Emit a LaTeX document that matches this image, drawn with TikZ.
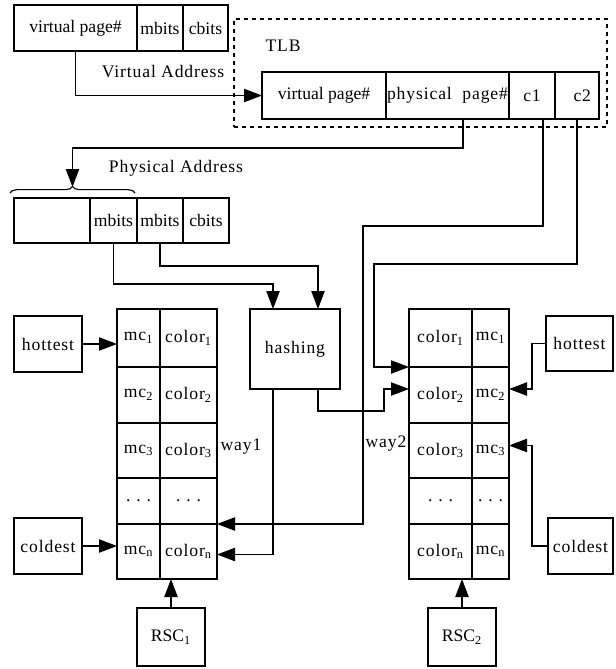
\documentclass[tikz,border=0pt]{standalone}
\usepackage{fontspec}
\setmainfont{Liberation Serif}
\newfontfamily\lsp[LetterSpace=5]{Liberation Serif}
\usetikzlibrary{arrows.meta,calc,decorations.pathreplacing}
\newcommand\pxcell[6]{\node[cellstyle, minimum width={(#4-#2)*0.75pt}, minimum height={(#5-#3)*0.75pt}] (#1) at ({(#2+#4)/2},{(#3+#5)/2}) {#6};}
\tikzset{
  cellstyle/.style={draw, rectangle, line width=0.85pt, inner sep=0pt, outer sep=0pt},
  ln/.style={line width=0.85pt},
  arr/.style={line width=0.85pt, -{Triangle[length=13.5pt,width=10pt]}},
  lbl/.style={inner sep=0pt, outer sep=0pt}
}
\begin{document}
\begin{tikzpicture}[x=0.75pt, y=-0.75pt, font=\fontsize{13.2}{15}\selectfont]
\useasboundingbox (0,0) rectangle (616,669);
% virtual address
\pxcell{va1}{14}{5}{137}{51}{virtual page\#}
\pxcell{va2}{137}{5}{183}{51}{mbits}
\pxcell{va3}{183}{5}{228}{51}{cbits}
\node[lbl] (vaddr) at (163,72) {\lsp Virtual Address};
% TLB
\node[draw, dashed, line width=0.85pt, rectangle, inner sep=0pt, outer sep=0pt, minimum width={373*0.75pt}, minimum height={108*0.75pt}] (tlbbox) at (420.5,73) {};
\node[lbl] (tlblbl) at (283,46) {\lsp TLB};
\pxcell{tlb1}{262}{72}{386}{119}{virtual page\#}
\pxcell{tlb2}{386}{72}{509}{119}{\lsp physical\ \ page\#}
\pxcell{tlb3}{509}{72}{555}{119}{\lsp c1}
\pxcell{tlb4}{555}{72}{599}{119}{\lsp\ \ c2}
% physical address
\node[lbl] (paddr) at (176,168) {\lsp Physical Address};
\pxcell{pa1}{14}{198}{90}{243}{}
\pxcell{pa2}{90}{198}{137}{243}{\raisebox{-2pt}{mbits}}
\pxcell{pa3}{137}{198}{183}{243}{mbits}
\pxcell{pa4}{183}{198}{229}{243}{cbits}
\draw[ln, decorate, decoration={brace, amplitude=5pt}] (10,193) -- (135,193);
\coordinate (brtip) at (72.5,187);
% hashing
\pxcell{hash}{250}{309}{340}{389}{\lsp hashing}
% left table (way1)
\pxcell{lm1}{117}{309}{160}{367}{\lsp mc\textsubscript{1}}
\pxcell{lc1}{160}{309}{217}{367}{\lsp color\textsubscript{1}}
\pxcell{lm2}{117}{367}{160}{423}{\lsp mc\textsubscript{2}}
\pxcell{lc2}{160}{367}{217}{423}{\lsp color\textsubscript{2}}
\pxcell{lm3}{117}{423}{160}{478}{\lsp mc\textsubscript{3}}
\pxcell{lc3}{160}{423}{217}{478}{\lsp color\textsubscript{3}}
\pxcell{lm4}{117}{478}{160}{524}{. . .}
\pxcell{lc4}{160}{478}{217}{524}{. . .}
\pxcell{lm5}{117}{524}{160}{579}{\lsp mc\textsubscript{n}}
\pxcell{lc5}{160}{524}{217}{579}{\lsp color\textsubscript{n}}
% right table (way2)
\pxcell{rc1}{409}{309}{472}{367}{\lsp color\textsubscript{1}}
\pxcell{rm1}{472}{309}{509}{367}{\lsp mc\textsubscript{1}}
\pxcell{rc2}{409}{367}{472}{423}{\lsp color\textsubscript{2}}
\pxcell{rm2}{472}{367}{509}{423}{\lsp mc\textsubscript{2}}
\pxcell{rc3}{409}{423}{472}{478}{\lsp color\textsubscript{3}}
\pxcell{rm3}{472}{423}{509}{478}{\lsp mc\textsubscript{3}}
\pxcell{rc4}{409}{478}{472}{524}{. . .}
\pxcell{rm4}{472}{478}{509}{524}{. . .}
\pxcell{rc5}{409}{524}{472}{579}{\lsp color\textsubscript{n}}
\pxcell{rm5}{472}{524}{509}{579}{\lsp mc\textsubscript{n}}
\node[lbl] (way1) at (241,447) {\lsp way1};
\node[lbl] (way2) at (386,444) {\lsp way2};
% side boxes
\pxcell{hotL}{14}{316}{82}{372}{\lsp hottest}
\pxcell{coldL}{14}{518}{82}{574}{\lsp coldest}
\pxcell{rsc1}{137}{608}{205}{666}{RSC\textsubscript{1}}
\pxcell{hotR}{546}{316}{613}{371}{\lsp hottest}
\pxcell{coldR}{548}{518}{613}{574}{\lsp coldest}
\pxcell{rsc2}{428}{608}{496}{666}{RSC\textsubscript{2}}
% connectors
\draw[arr] (va1.south) |- (tlb1.west);
\draw[arr] (tlb2.south -| 463,0) |- (brtip |- 0,148) -- (brtip);
\coordinate (h1) at ($(hash.north)+(-22,0)$);
\coordinate (h2) at ($(hash.north)+(23,0)$);
\coordinate (h3) at ($(hash.south)+(-22,0)$);
\coordinate (h4) at ($(hash.south)+(23,0)$);
\draw[arr] (pa2.south) |- ($(h1)+(0,-25)$) -- (h1);
\draw[arr] (pa3.south) |- ($(h2)+(0,-43)$) -- (h2);
\draw[arr] (h3) |- ($(lc5.east)+(0,3)$);
\draw[arr] (h4) -- ++(0,22) -| ($(rc2.west)+(-25,-6)$) -- ($(rc2.west)+(0,-6)$);
\draw[arr] (tlb3.south -| 543,0) |- (363,226) |- (lc5.north east);
\draw[arr] (tlb4.south) |- (374,264) |- (rc1.south west);
\draw[arr] (hotL.east) -- (hotL.east -| lm1.west);
\draw[arr] (coldL.east) -- (coldL.east -| lm5.west);
\draw[arr] (rsc1.north) -- (rsc1.north |- lc5.south);
\draw[arr] (hotR.west) -- ++(-14,0) |- ($(rm2.east)+(0,-6)$);
\draw[arr] (coldR.west) -- ++(-16,0) |- ($(rm3.east)+(0,-5)$);
\draw[arr] (rsc2.north) -- (rsc2.north |- rc5.south);
\end{tikzpicture}
\end{document}
